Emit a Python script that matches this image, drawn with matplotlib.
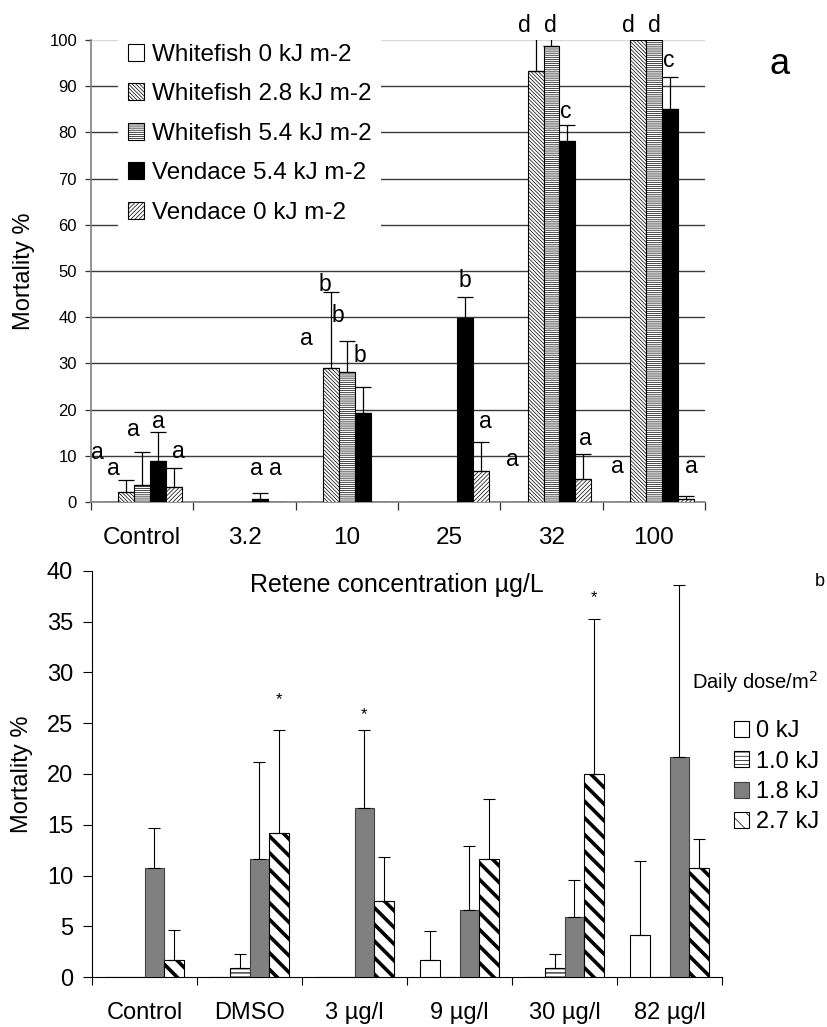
import numpy as np
import matplotlib
matplotlib.use('Agg')
import matplotlib.pyplot as plt
import matplotlib.patches as mpatches

plt.rcParams['font.family'] = ['Liberation Sans', 'DejaVu Sans']
plt.rcParams['hatch.linewidth'] = 0.5

# ---------------- panel a data ----------------
conc_labels = ['Control', '3.2', '10', '25', '32', '100']
a_names = ['Whitefish 0 kJ m-2', 'Whitefish 2.8 kJ m-2', 'Whitefish 5.4 kJ m-2',
           'Vendace 5.4 kJ m-2', 'Vendace 0 kJ m-2']
wf_0 = [0, 0, 0, 0, 0, 0]
wf_28 = [2.2, 0, 29.1, 0, 93.3, 100]
wf_54 = [3.7, 0, 28.1, 0, 98.6, 100]
ven_54 = [8.9, 0.6, 19.3, 39.9, 78.1, 85.1]
ven_0 = [3.3, 0, 0, 6.8, 5.0, 0.65]
wf_0_err = [0, 0, 0, 0, 0, 0]
wf_28_err = [2.6, 0, 16.3, 0, 7.3, 0]
wf_54_err = [7.2, 0, 6.8, 0, 2.0, 0]
ven_54_err = [6.3, 1.4, 5.5, 4.5, 3.4, 6.8]
ven_0_err = [4.1, 0, 0, 6.2, 5.3, 0.55]

# significance letters (x in category units, y in %)
a_letters = [
    (-0.441, 10.8, 'a'), (-0.278, 7.3, 'a'), (-0.089, 15.8, 'a'), (0.155, 17.4, 'a'), (0.350, 10.9, 'a'),
    (1.120, 7.3, 'a'), (1.299, 7.3, 'a'),
    (1.609, 35.4, 'a'), (1.787, 47.1, 'b'), (1.917, 40.3, 'b'), (2.130, 31.7, 'b'),
    (3.156, 47.9, 'b'), (3.351, 17.5, 'a'),
    (3.622, 9.1, 'a'), (3.733, 103.1, 'd'), (3.987, 103.1, 'd'), (4.140, 84.6, 'c'), (4.329, 13.8, 'a'),
    (4.645, 7.6, 'a'), (4.752, 103.1, 'd'), (5.003, 103.1, 'd'), (5.143, 95.5, 'c'), (5.365, 7.6, 'a'),
]

# ---------------- panel b data ----------------
treat_labels = ['Control', 'DMSO', '3 µg/l', '9 µg/l', '30 µg/l', '82 µg/l']
b_names = ['0 kJ', '1.0 kJ', '1.8 kJ', '2.7 kJ']
dose_0 = [0, 0, 0, 1.7, 0, 4.2]
dose_10 = [0, 0.9, 0, 0, 0.9, 0]
dose_18 = [10.8, 11.6, 16.7, 6.6, 5.9, 21.7]
dose_27 = [1.7, 14.2, 7.5, 11.6, 20.0, 10.8]
dose_0_err = [0, 0, 0, 2.85, 0, 7.2]
dose_10_err = [0, 1.4, 0, 0, 1.4, 0]
dose_18_err = [3.85, 9.6, 7.65, 6.3, 3.7, 16.9]
dose_27_err = [2.95, 10.15, 4.3, 5.9, 15.2, 2.8]

# stars: (treatment index, dose index, height)
b_stars = [(1, 3, 27.3), (2, 2, 25.8), (4, 3, 37.4)]

fig = plt.figure(figsize=(8.28, 10.27), dpi=100)
W, H = 828, 1027


def px_axes(x0, y_top, x1, y_bot):
    return fig.add_axes([x0 / W, 1 - y_bot / H, (x1 - x0) / W, (y_bot - y_top) / H])


def set_hlw(artists, lw):
    for a in artists:
        if hasattr(a, 'set_hatch_linewidth'):
            a.set_hatch_linewidth(lw)


def up_errors(ax, pos, vals, errs, lw, cap):
    v = np.array(vals, float)
    e = np.array(errs, float)
    m = e > 0
    if m.any():
        ax.errorbar(pos[m], v[m], yerr=[np.zeros(m.sum()), e[m]], fmt='none', ecolor='black',
                    elinewidth=lw, capsize=cap, capthick=lw, zorder=4)


# ================= panel a =================
axA = px_axes(91, 40, 705, 502)
xa = np.arange(len(conc_labels))
wa = 0.156
a_vals = [wf_0, wf_28, wf_54, ven_54, ven_0]
a_errs = [wf_0_err, wf_28_err, wf_54_err, ven_54_err, ven_0_err]
a_styles = [
    dict(color='white', hatch=None),
    dict(color='white', hatch='\\' * 9),
    dict(color='white', hatch='-' * 8),
    dict(color='black', hatch=None),
    dict(color='white', hatch='/' * 8),
]
a_handles = []
for j in range(5):
    st = a_styles[j]
    pos = xa + (j - 2) * wa
    bars = axA.bar(pos, a_vals[j], wa, color=st['color'], edgecolor='black', linewidth=0.8,
                   hatch=st['hatch'], zorder=3)
    set_hlw(bars, 0.5)
    up_errors(axA, pos, a_vals[j], a_errs[j], 0.9, 5.5)
    hp = mpatches.Patch(facecolor=st['color'], edgecolor='black', linewidth=0.8,
                        hatch=st['hatch'], label=a_names[j])
    set_hlw([hp], 0.5)
    a_handles.append(hp)

for lx, ly, lt in a_letters:
    axA.text(lx, ly, lt, fontsize=16.5, ha='center', va='center', zorder=5, clip_on=False)

axA.set_xlim(-0.5, len(conc_labels) - 0.5)
axA.set_ylim(0, 100)
axA.set_yticks(np.arange(0, 101, 10))
axA.tick_params(axis='y', labelsize=12, length=4, width=0.9, pad=6, color='#333333')
axA.set_xticks(np.arange(-0.5, len(conc_labels), 1))
axA.set_xticklabels([])
axA.set_xticks(xa, minor=True)
axA.set_xticklabels(conc_labels, minor=True)
axA.tick_params(axis='x', which='major', length=6, width=0.9, color='#333333')
axA.tick_params(axis='x', which='minor', length=0, labelsize=17.5, pad=18)
axA.yaxis.grid(True, color='#3a3a3a', linewidth=1.0, zorder=0)
axA.set_axisbelow(True)
axA.yaxis.get_gridlines()[-1].set_color('#d8d8d8')
for s in ['top', 'right']:
    axA.spines[s].set_visible(False)
for s in ['left', 'bottom']:
    axA.spines[s].set_color('#808080')
    axA.spines[s].set_linewidth(1.2)

legA = axA.legend(handles=a_handles, loc='upper left', bbox_to_anchor=(118 / W, 1 - 34 / H),
                  bbox_transform=fig.transFigure, fontsize=17.5, frameon=True, facecolor='white',
                  edgecolor='none', framealpha=1, fancybox=False, borderpad=0.4, borderaxespad=0,
                  handlelength=0.68, handleheight=0.68, handletextpad=0.3, labelspacing=0.72)
legA.set_zorder(6)

fig.text(24 / W, 1 - 271 / H, 'Mortality %', rotation=90, ha='center', va='center', fontsize=17)
fig.text(780 / W, 1 - 65 / H, 'a', ha='center', va='center', fontsize=26)

# ================= panel b =================
axB = px_axes(92, 570.7, 722, 977.3)
xb = np.arange(len(treat_labels))
wb = 0.186
b_vals = [dose_0, dose_10, dose_18, dose_27]
b_errs = [dose_0_err, dose_10_err, dose_18_err, dose_27_err]
b_styles = [
    dict(color='white', edge='black', hatch=None, hlw=0.8),
    dict(color='white', edge='black', hatch='----', hlw=0.8),
    dict(color='#808080', edge='#404040', hatch=None, hlw=0.8),
    dict(color='white', edge='black', hatch='\\\\', hlw=2.6),
]
b_handles = []
for j in range(4):
    st = b_styles[j]
    pos = xb + (j - 1.5) * wb
    plt.rcParams['hatch.linewidth'] = st['hlw']
    bars = axB.bar(pos, b_vals[j], wb, color=st['color'], edgecolor=st['edge'], linewidth=0.8,
                   hatch=st['hatch'], zorder=3)
    set_hlw(bars, st['hlw'])
    up_errors(axB, pos, b_vals[j], b_errs[j], 0.8, 4.5)
    hp = mpatches.Patch(facecolor=st['color'], edgecolor=st['edge'], linewidth=0.8,
                        hatch=st['hatch'], label=b_names[j])
    set_hlw([hp], st['hlw'])
    b_handles.append(hp)
plt.rcParams['hatch.linewidth'] = 0.5

for ti, di, sy in b_stars:
    axB.text(xb[ti] + (di - 1.5) * wb, sy, '*', fontsize=12, ha='center', va='center')

axB.set_xlim(-0.5, len(treat_labels) - 0.5)
axB.set_ylim(0, 40)
axB.set_yticks(np.arange(0, 41, 5))
axB.tick_params(axis='y', labelsize=17, length=6.5, width=0.8, pad=7)
axB.set_xticks(np.arange(-0.5, len(treat_labels), 1))
axB.set_xticklabels([])
axB.set_xticks(xb, minor=True)
axB.set_xticklabels(treat_labels, minor=True)
axB.tick_params(axis='x', which='major', length=5.5, width=0.8)
axB.tick_params(axis='x', which='minor', length=0, labelsize=17, pad=18)
for s in ['top', 'right']:
    axB.spines[s].set_visible(False)
axB.spines['left'].set_linewidth(0.8)
axB.spines['bottom'].set_linewidth(0.8)

axB.legend(handles=b_handles, loc='upper left', bbox_to_anchor=(734 / W, 1 - 720 / H),
           bbox_transform=fig.transFigure, fontsize=17, frameon=False, borderpad=0,
           borderaxespad=0, handlelength=0.64, handleheight=0.64, handletextpad=0.3,
           labelspacing=0.36)

fig.text(22 / W, 1 - 774 / H, 'Mortality %', rotation=90, ha='center', va='center', fontsize=17)
fig.text(397 / W, 1 - 585 / H, 'Retene concentration µg/L', ha='center', va='center', fontsize=18)
fig.text(692 / W, 1 - 682 / H, 'Daily dose/m$^2$', ha='left', va='center', fontsize=14.5)
fig.text(815 / W, 1 - 582 / H, 'b', ha='left', va='center', fontsize=13)

fig.savefig('out.png', dpi=100)
